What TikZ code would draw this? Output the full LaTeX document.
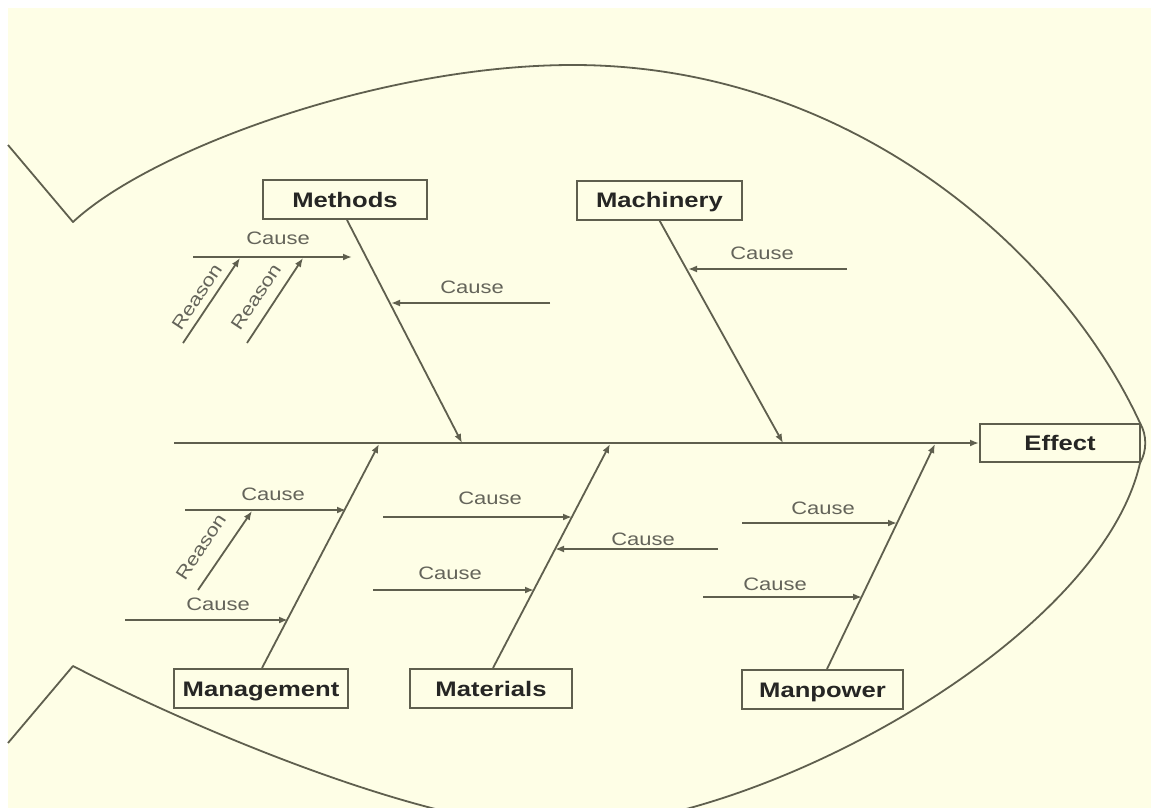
\documentclass[tikz,border=0pt]{standalone}
\usepackage{fontspec}
\setmainfont{Liberation Sans}[FakeStretch=1.22]
\usetikzlibrary{arrows.meta,calc}
\definecolor{bgc}{RGB}{254,254,230}
\definecolor{linec}{RGB}{95,95,78}
\definecolor{txtc}{RGB}{38,38,36}
\definecolor{lblc}{RGB}{100,100,90}
\tikzset{
  bone/.style={draw=linec, line width=1.8pt},
  arr/.style={bone, -{Latex[length=9pt,width=7pt]}},
  catbox/.style={draw=linec, line width=2pt, fill=bgc, inner sep=0pt, minimum height=39pt,
     text height=15pt, text depth=0pt,
     font=\bfseries\fontsize{21}{21}\selectfont, text=txtc},
  lbl/.style={font=\fontsize{18}{18}\selectfont, text=lblc, inner sep=0pt},
  outline/.style={draw=linec, line width=1.8pt, line join=round}
}
\begin{document}
\begin{tikzpicture}[x=1pt,y=-1pt]
\useasboundingbox (0,0) rectangle (1151,808);
\fill[white] (0,0) rectangle (1151,808);
\fill[bgc] (8,8) rectangle (1151,808);
% fish outline
\draw[outline] (8,145) -- (73,222)
  .. controls (150,150) and (380,65) .. (573,65)
  .. controls (850,65) and (1060,250) .. (1140,423)
  .. controls (1147,435) and (1147,451) .. (1140,463)
  .. controls (1100,640) and (760,828) .. (560,828)
  .. controls (430,828) and (199,731) .. (73,666)
  -- (8,743);
% boxes
\node[catbox, minimum width=164pt] (methods) at (345,199.5) {Methods};
\node[catbox, minimum width=165pt] (machinery) at (659.5,200) {Machinery};
\node[catbox, minimum width=160pt, minimum height=38pt] (effect) at (1060,443) {Effect};
\node[catbox, minimum width=174pt] (management) at (261,688.5) {Management};
\node[catbox, minimum width=162pt] (materials) at (491,688.5) {Materials};
\node[catbox, minimum width=161pt] (manpower) at (822.5,689.5) {Manpower};
% spine
\coordinate (spineL) at (174,443);
\draw[arr] (spineL) -- (effect.west);
% main bones
\coordinate (meS) at (462,443);
\coordinate (maS) at (783,443);
\coordinate (mgS) at (379,444);
\coordinate (mtS) at (610,444);
\coordinate (mpS) at (935,444);
\draw[arr] ([xshift=2pt]methods.south) -- (meS);
\draw[arr] (machinery.south) -- (maS);
\draw[arr] ([xshift=1pt]management.north) -- (mgS);
\draw[arr] ([xshift=2pt]materials.north) -- (mtS);
\draw[arr] ([xshift=4.5pt]manpower.north) -- (mpS);
% Methods causes
\coordinate (c1s) at (193,257); \coordinate (c1e) at (352,257);
\draw[arr] (c1s) -- (c1e);
\node[lbl] (c1l) at (278,238) {Cause};
\coordinate (r1s) at (183,343); \coordinate (r1e) at (240,258);
\coordinate (r2s) at (247,343); \coordinate (r2e) at (303,258);
\draw[arr] (r1s) -- (r1e);
\draw[arr] (r2s) -- (r2e);
\node[lbl, rotate=56.5] (r1l) at (197,297) {Reason};
\node[lbl, rotate=56.5] (r2l) at (256,297) {Reason};
\coordinate (c2s) at (550,303); \coordinate (c2e) at (391,303);
\draw[arr] (c2s) -- (c2e);
\node[lbl] (c2l) at (472,287) {Cause};
% Machinery cause
\coordinate (c3s) at (847,269); \coordinate (c3e) at (688,269);
\draw[arr] (c3s) -- (c3e);
\node[lbl] (c3l) at (762,253) {Cause};
% Management causes
\coordinate (c4s) at (185,510); \coordinate (c4e) at (346,510);
\draw[arr] (c4s) -- (c4e);
\node[lbl] (c4l) at (273,494) {Cause};
\coordinate (r3s) at (198,590); \coordinate (r3e) at (252,511);
\draw[arr] (r3s) -- (r3e);
\node[lbl, rotate=56.5] (r3l) at (201,547) {Reason};
\coordinate (c5s) at (125,620); \coordinate (c5e) at (288,620);
\draw[arr] (c5s) -- (c5e);
\node[lbl] (c5l) at (218,604) {Cause};
% Materials causes
\coordinate (c6s) at (383,517); \coordinate (c6e) at (572,517);
\draw[arr] (c6s) -- (c6e);
\node[lbl] (c6l) at (490,498) {Cause};
\coordinate (c7s) at (718,549); \coordinate (c7e) at (555,549);
\draw[arr] (c7s) -- (c7e);
\node[lbl] (c7l) at (643,539) {Cause};
\coordinate (c8s) at (373,590); \coordinate (c8e) at (534,590);
\draw[arr] (c8s) -- (c8e);
\node[lbl] (c8l) at (450,573) {Cause};
% Manpower causes
\coordinate (c9s) at (742,523); \coordinate (c9e) at (897,523);
\draw[arr] (c9s) -- (c9e);
\node[lbl] (c9l) at (823,508) {Cause};
\coordinate (c10s) at (703,597); \coordinate (c10e) at (862,597);
\draw[arr] (c10s) -- (c10e);
\node[lbl] (c10l) at (775,584) {Cause};
\end{tikzpicture}
\end{document}
